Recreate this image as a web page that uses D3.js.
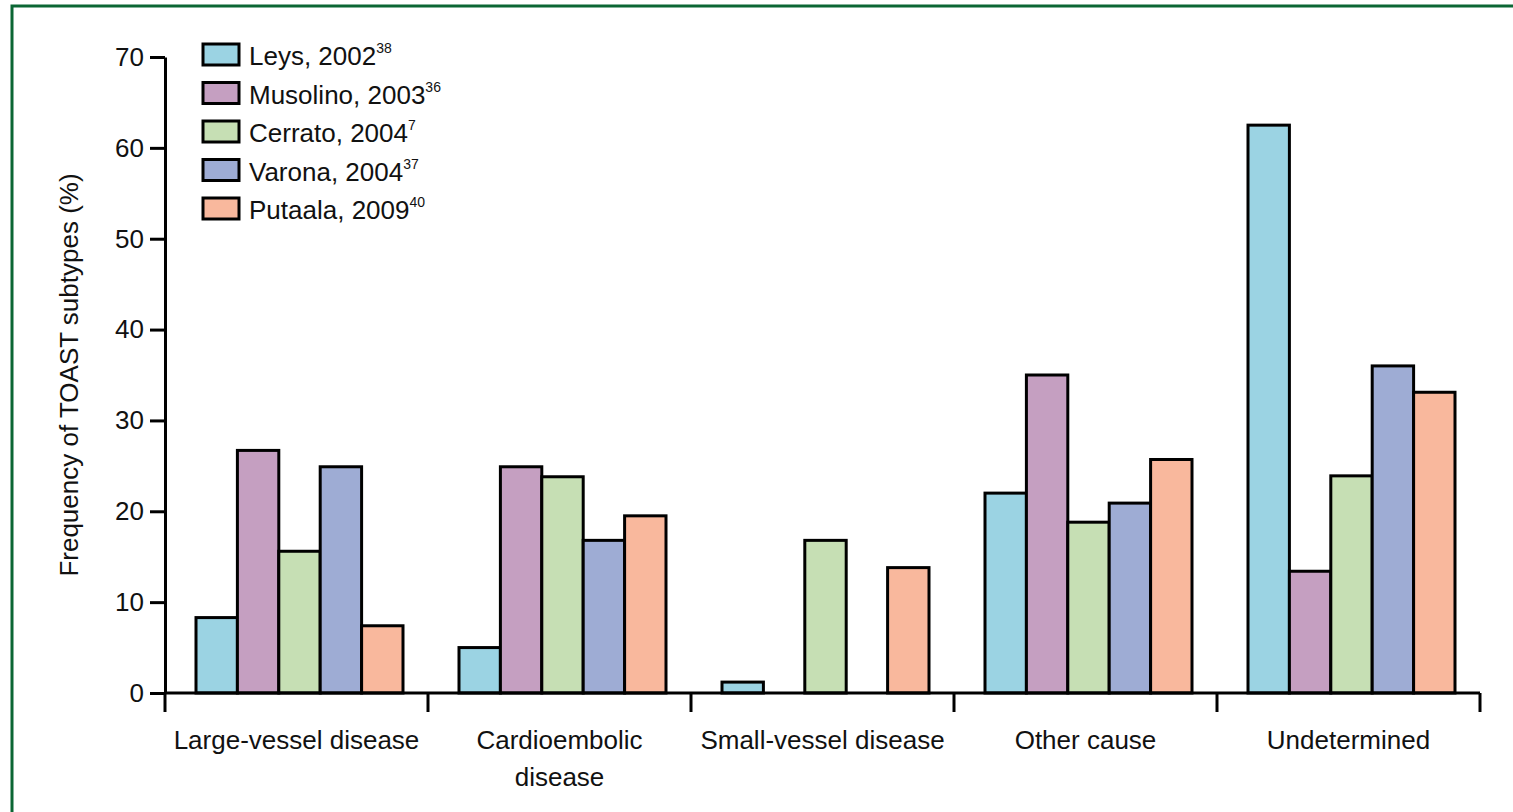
<!DOCTYPE html>
<html lang="en">
	<head>
		<meta charset="utf-8">
		<title>TOAST subtypes</title>
		<script src="https://d3js.org/d3.v7.min.js"></script>
		<style>
			body { margin: 0; background: #fff; }
			text { font-family: "Liberation Sans", Arial, sans-serif; fill: #111; }
		</style>
	</head>
	<body>
		<script type="text/javascript">

			// categories on the x axis (label lines)
			const categories = ["Large-vessel disease", "Cardioembolic disease", "Small-vessel disease", "Other cause", "Undetermined"];
			const categoryLines = [["Large-vessel disease"], ["Cardioembolic", "disease"], ["Small-vessel disease"], ["Other cause"], ["Undetermined"]];

			// studies (series) with reference superscripts
			const studies = ["Leys, 2002", "Musolino, 2003", "Cerrato, 2004", "Varona, 2004", "Putaala, 2009"];
			const refs = ["38", "36", "7", "37", "40"];
			const colors = ["#9bd3e3", "#c59fc1", "#c6dfb4", "#9eacd4", "#f9b89d"];

			// values per study, in category order (null = no bar)
			const leys     = [8.3, 5.0, 1.2, 22.0, 62.5];
			const musolino = [26.7, 24.9, null, 35.0, 13.4];
			const cerrato  = [15.6, 23.8, 16.8, 18.8, 23.9];
			const varona   = [24.9, 16.8, null, 20.9, 36.0];
			const putaala  = [7.4, 19.5, 13.8, 25.7, 33.1];

			const yTicks = [0, 10, 20, 30, 40, 50, 60, 70];

			drawChart();

			function drawChart(){
				const width = 1513;
				const height = 812;

				const seriesValues = [leys, musolino, cerrato, varona, putaala];

				const rows = [];
				categories.forEach((c, i) => {
					studies.forEach((s, j) => {
						rows.push({category: c, study: s, value: seriesValues[j][i], idx: j});
					});
				});

				const svg = d3.select("body").append("svg")
					.attr("width", width)
					.attr("height", height)
					.attr("viewBox", [0, 0, width, height]);

				// green frame (top and left)
				svg.append("path")
					.attr("d", `M12,${height} L12,6 L${width},6`)
					.attr("fill", "none")
					.attr("stroke", "#0b6634")
					.attr("stroke-width", 3);

				const x0 = d3.scaleBand()
					.domain(categories)
					.range([165, 1480])
					.padding(0);

				const x1 = d3.scaleBand()
					.domain(studies)
					.range([31, 238])
					.padding(0);

				const y = d3.scaleLinear()
					.domain([0, 70])
					.range([693, 57]);

				const color = d3.scaleOrdinal()
					.domain(studies)
					.range(colors);

				// bars
				svg.append("g")
					.selectAll("rect")
					.data(rows.filter(d => d.value != null))
					.join("rect")
					.attr("x", d => x0(d.category) + x1(d.study))
					.attr("y", d => y(d.value))
					.attr("width", x1.bandwidth())
					.attr("height", d => y(0) - y(d.value))
					.attr("fill", d => color(d.study))
					.attr("stroke", "#000")
					.attr("stroke-width", 3);

				// y axis
				const yAxis = svg.append("g")
					.attr("transform", "translate(165,0)")
					.call(d3.axisLeft(y).tickValues(yTicks).tickSize(15).tickSizeOuter(0).tickPadding(6));
				yAxis.select(".domain").attr("stroke-width", 3).attr("stroke", "#000");
				yAxis.selectAll(".tick line").attr("stroke-width", 3).attr("stroke", "#000");
				yAxis.selectAll(".tick text")
					.attr("font-size", 26)
					.attr("font-family", "Liberation Sans, Arial, sans-serif")
					.attr("fill", "#111");

				// x axis
				const xAxis = svg.append("g")
					.attr("transform", `translate(0,${y(0)})`);
				xAxis.append("line")
					.attr("x1", x0.range()[0])
					.attr("x2", x0.range()[1])
					.attr("stroke", "#000")
					.attr("stroke-width", 3);
				const bounds = categories.map(c => x0(c)).concat([x0.range()[1]]);
				xAxis.selectAll(".bound")
					.data(bounds)
					.join("line")
					.attr("class", "bound")
					.attr("x1", d => d)
					.attr("x2", d => d)
					.attr("y1", 0)
					.attr("y2", 19)
					.attr("stroke", "#000")
					.attr("stroke-width", 3);

				const lab = xAxis.selectAll(".lab")
					.data(categories)
					.join("text")
					.attr("class", "lab")
					.attr("text-anchor", "middle")
					.attr("font-size", 26)
					.attr("y", 56);
				lab.selectAll("tspan")
					.data((d, i) => categoryLines[i].map(t => ({t, c: d})))
					.join("tspan")
					.attr("x", d => x0(d.c) + x0.bandwidth() / 2)
					.attr("dy", (d, i) => i === 0 ? 0 : 37)
					.text(d => d.t);

				// y title
				svg.append("text")
					.attr("transform", `translate(78,${(y(0) + y(70)) / 2}) rotate(-90)`)
					.attr("text-anchor", "middle")
					.attr("font-size", 26)
					.text("Frequency of TOAST subtypes (%)");

				// legend
				const legend = svg.append("g")
					.attr("transform", "translate(203,44)");
				const item = legend.selectAll("g")
					.data(studies)
					.join("g")
					.attr("transform", (d, i) => `translate(0,${i * 38.5})`);
				item.append("rect")
					.attr("width", 36)
					.attr("height", 21)
					.attr("fill", d => color(d))
					.attr("stroke", "#000")
					.attr("stroke-width", 3);
				const lt = item.append("text")
					.attr("x", 46)
					.attr("y", 21)
					.attr("font-size", 26);
				lt.append("tspan").text(d => d);
				lt.append("tspan")
					.attr("font-size", 14)
					.attr("dy", -12)
					.text((d, i) => refs[i]);
			}

		</script>
	</body>
</html>
